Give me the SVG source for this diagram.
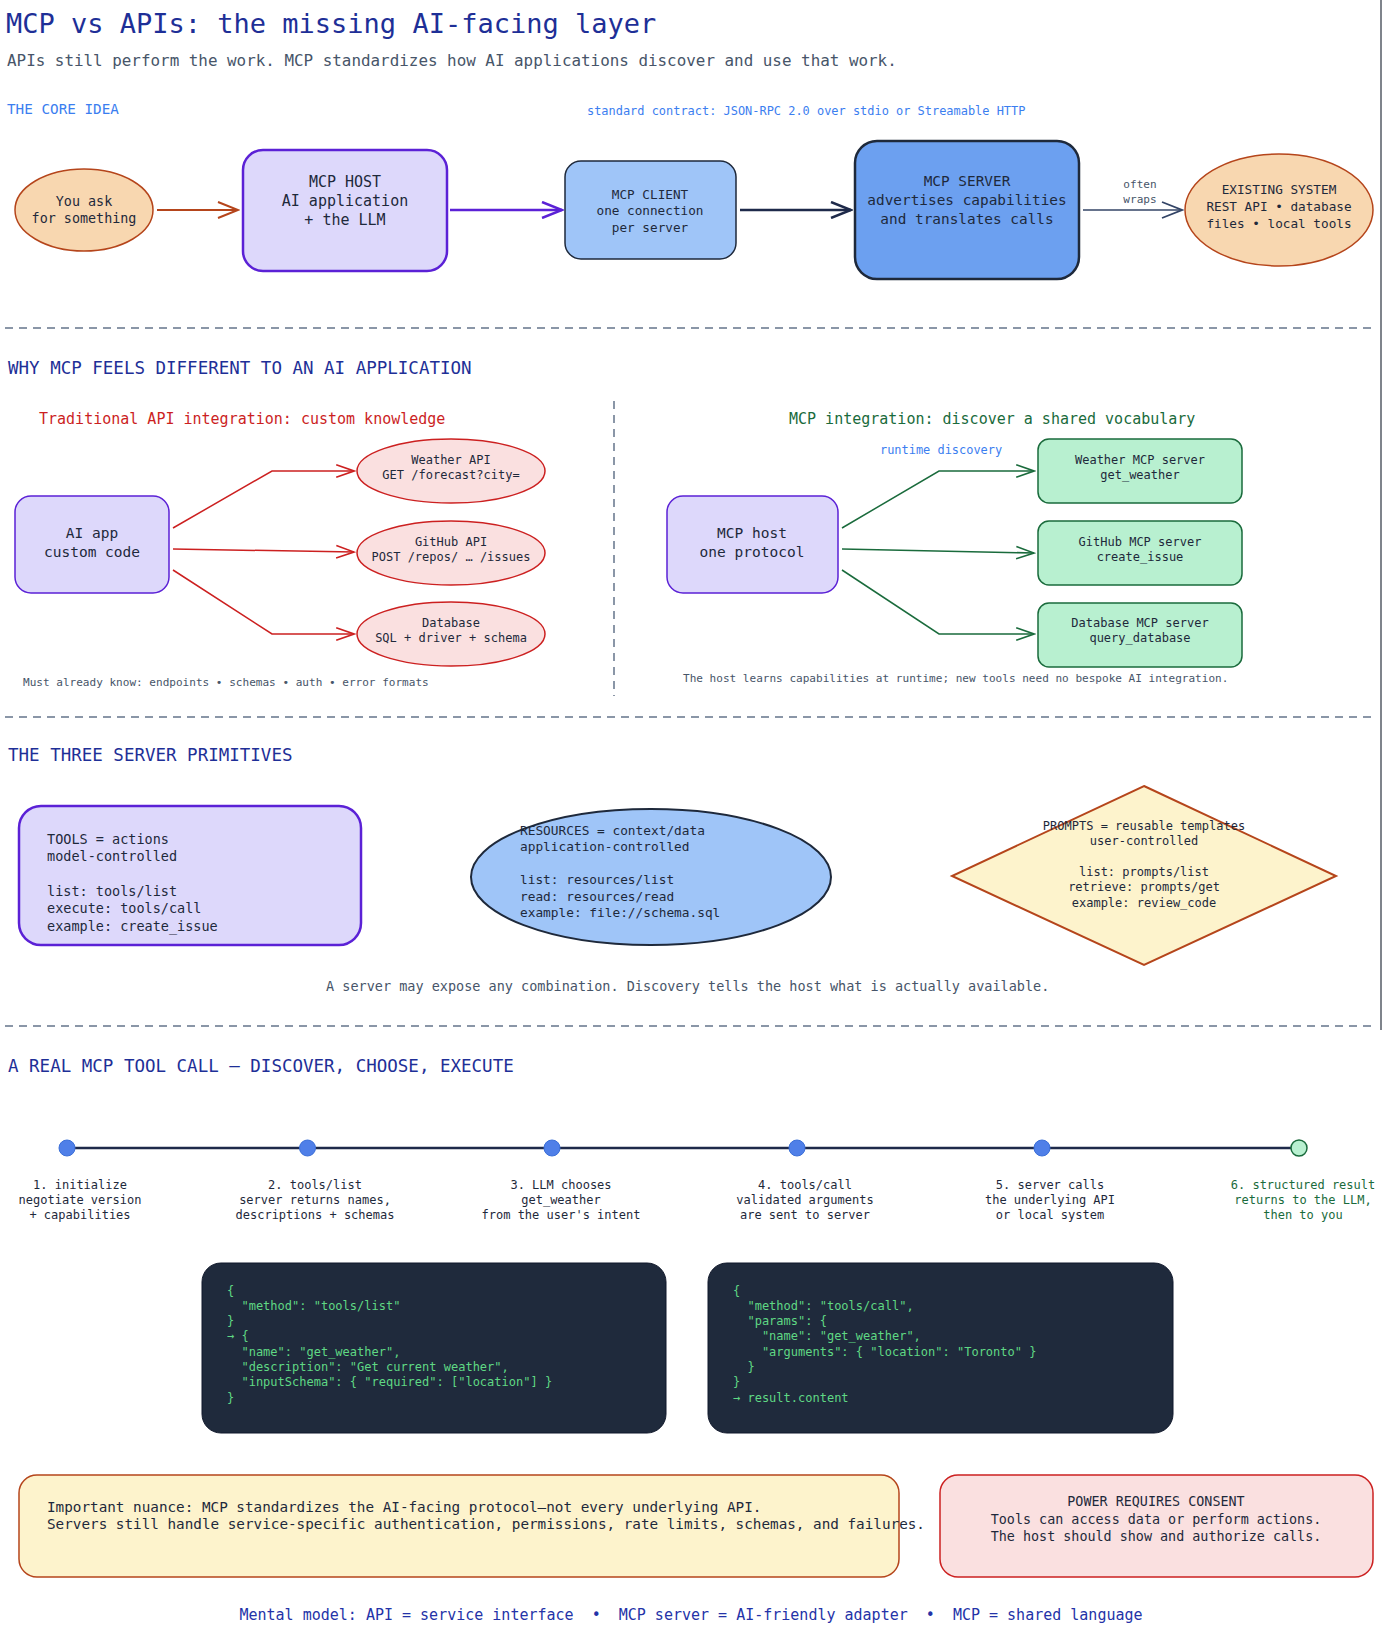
<svg xmlns="http://www.w3.org/2000/svg" width="1382" height="1640" viewBox="0 0 1382 1640">
  <style>
    text { font-family: "DejaVu Sans Mono", "Liberation Mono", monospace; dominant-baseline: central; }
    .h1 { font-size: 27px; fill: #1e2f97; }
    .sub { font-size: 15.9px; fill: #475569; }
    .sec { font-size: 17.5px; fill: #1e2f97; }
    .kick { font-size: 14.3px; fill: #3b7ef0; }
    .note { font-size: 11.95px; fill: #3b7ef0; }
    .cap { font-size: 11.05px; fill: #475569; }
    .nt { fill: #1e293b; text-anchor: middle; }
    .lt { fill: #1e293b; }
    .code { font-size: 12px; fill: #5fd884; }
    .sep { stroke: #64748b; stroke-width: 1.5; stroke-dasharray: 8 6; fill: none; }
    .peach { fill: #f8d7b0; stroke: #b5451b; stroke-width: 1.5; }
    .lav { fill: #ddd8fb; stroke: #5b21d6; }
    .pink { fill: #fae0e0; stroke: #cc2020; stroke-width: 1.5; }
    .mint { fill: #b8f0d0; stroke: #1a6b3c; stroke-width: 1.5; }
    .dot { fill: #4f7fe8; stroke: #3b6fd8; stroke-width: 1; }
  </style>
  <defs>
    <marker id="ah-rust" viewBox="0 0 24 18" refX="22" refY="9" markerWidth="24" markerHeight="18" markerUnits="userSpaceOnUse" orient="auto">
      <path d="M2,1 L22,9 L2,17" fill="none" stroke="#b5451b" stroke-width="2"/>
    </marker>
    <marker id="ah-purple" viewBox="0 0 24 18" refX="22" refY="9" markerWidth="24" markerHeight="18" markerUnits="userSpaceOnUse" orient="auto">
      <path d="M2,1 L22,9 L2,17" fill="none" stroke="#5b21d6" stroke-width="2.5"/>
    </marker>
    <marker id="ah-navy" viewBox="0 0 24 18" refX="22" refY="9" markerWidth="24" markerHeight="18" markerUnits="userSpaceOnUse" orient="auto">
      <path d="M2,1 L22,9 L2,17" fill="none" stroke="#1e2a4a" stroke-width="2.5"/>
    </marker>
    <marker id="ah-slate" viewBox="0 0 24 18" refX="22" refY="9" markerWidth="24" markerHeight="18" markerUnits="userSpaceOnUse" orient="auto">
      <path d="M2,1 L22,9 L2,17" fill="none" stroke="#334466" stroke-width="1.8"/>
    </marker>
    <marker id="ah-red" viewBox="0 0 24 18" refX="22" refY="9" markerWidth="22" markerHeight="16" markerUnits="userSpaceOnUse" orient="auto">
      <path d="M2,2 L22,9 L2,16" fill="none" stroke="#cc2020" stroke-width="1.8"/>
    </marker>
    <marker id="ah-green" viewBox="0 0 24 18" refX="22" refY="9" markerWidth="22" markerHeight="16" markerUnits="userSpaceOnUse" orient="auto">
      <path d="M2,2 L22,9 L2,16" fill="none" stroke="#1a6b3c" stroke-width="1.8"/>
    </marker>
  </defs>

  <rect width="1382" height="1640" fill="#ffffff"/>
  <line x1="1381" y1="0" x2="1381" y2="1030" stroke="#555b66" stroke-width="1.5"/>

  <!-- heading -->
  <text class="h1" x="6" y="23">MCP vs APIs: the missing AI-facing layer</text>
  <text class="sub" x="7" y="60">APIs still perform the work. MCP standardizes how AI applications discover and use that work.</text>

  <!-- section 1: the core idea -->
  <text class="kick" x="7" y="109">THE CORE IDEA</text>
  <text class="note" x="587" y="111">standard contract: JSON-RPC 2.0 over stdio or Streamable HTTP</text>

  <g id="connectors">
    <line x1="157" y1="210" x2="238" y2="210" stroke="#b5451b" stroke-width="1.8" marker-end="url(#ah-rust)"/>
    <line x1="450" y1="210" x2="562" y2="210" stroke="#5b21d6" stroke-width="2.5" marker-end="url(#ah-purple)"/>
    <line x1="740" y1="210" x2="851" y2="210" stroke="#1e2a4a" stroke-width="2.5" marker-end="url(#ah-navy)"/>
    <line x1="1083" y1="210" x2="1182" y2="210" stroke="#334466" stroke-width="1.6" marker-end="url(#ah-slate)"/>
    <text class="cap" x="1140" y="184" text-anchor="middle">often</text>
    <text class="cap" x="1140" y="199" text-anchor="middle">wraps</text>

    <!-- traditional fan-out -->
    <polyline points="173,528 272,471 354,471" fill="none" stroke="#cc2020" stroke-width="1.5" marker-end="url(#ah-red)"/>
    <polyline points="173,549 354,552" fill="none" stroke="#cc2020" stroke-width="1.5" marker-end="url(#ah-red)"/>
    <polyline points="173,570 272,634 354,634" fill="none" stroke="#cc2020" stroke-width="1.5" marker-end="url(#ah-red)"/>

    <!-- MCP fan-out -->
    <polyline points="842,528 939,471 1034,471" fill="none" stroke="#1a6b3c" stroke-width="1.5" marker-end="url(#ah-green)"/>
    <polyline points="842,549 1034,553" fill="none" stroke="#1a6b3c" stroke-width="1.5" marker-end="url(#ah-green)"/>
    <polyline points="842,570 939,634 1034,634" fill="none" stroke="#1a6b3c" stroke-width="1.5" marker-end="url(#ah-green)"/>

    <!-- tool call timeline -->
    <line x1="67" y1="1148" x2="1299" y2="1148" stroke="#1e2a4a" stroke-width="2.5"/>
  </g>

  <g id="you-ask">
    <ellipse class="peach" cx="84" cy="210" rx="69" ry="41"/>
    <text class="nt" x="84" y="201" font-size="13.4">You ask</text>
    <text class="nt" x="84" y="218" font-size="13.4">for something</text>
  </g>
  <g id="mcp-host">
    <rect class="lav" x="243" y="150" width="204" height="121" rx="20" stroke-width="2.5"/>
    <text class="nt" x="345" y="182" font-size="15">MCP HOST</text>
    <text class="nt" x="345" y="201" font-size="15">AI application</text>
    <text class="nt" x="345" y="220" font-size="15">+ the LLM</text>
  </g>
  <g id="mcp-client">
    <rect x="565" y="161" width="171" height="98" rx="16" fill="#9fc5f8" stroke="#1e293b" stroke-width="1.5"/>
    <text class="nt" x="650" y="194" font-size="12.7">MCP CLIENT</text>
    <text class="nt" x="650" y="210" font-size="12.7">one connection</text>
    <text class="nt" x="650" y="227" font-size="12.7">per server</text>
  </g>
  <g id="mcp-server">
    <rect x="855" y="141" width="224" height="138" rx="22" fill="#6ca0f0" stroke="#1e293b" stroke-width="2.5"/>
    <text class="nt" x="967" y="181" font-size="14.4">MCP SERVER</text>
    <text class="nt" x="967" y="200" font-size="14.4">advertises capabilities</text>
    <text class="nt" x="967" y="219" font-size="14.4">and translates calls</text>
  </g>
  <g id="existing-system">
    <ellipse class="peach" cx="1279" cy="210" rx="94" ry="56"/>
    <text class="nt" x="1279" y="189" font-size="12.7">EXISTING SYSTEM</text>
    <text class="nt" x="1279" y="206" font-size="12.7">REST API • database</text>
    <text class="nt" x="1279" y="223" font-size="12.7">files • local tools</text>
  </g>

  <line class="sep" x1="5" y1="328" x2="1374" y2="328"/>

  <!-- section 2: why MCP feels different -->
  <text class="sec" x="8" y="368">WHY MCP FEELS DIFFERENT TO AN AI APPLICATION</text>
  <line class="sep" x1="614" y1="401" x2="614" y2="696" stroke-dasharray="6 5" stroke="#94a3b8"/>

  <text x="39" y="419" font-size="15" fill="#cc1f1f">Traditional API integration: custom knowledge</text>
  <text x="789" y="419" font-size="15" fill="#1a6b3c">MCP integration: discover a shared vocabulary</text>

  <g id="ai-app">
    <rect class="lav" x="15" y="496" width="154" height="97" rx="16" stroke-width="1.5"/>
    <text class="nt" x="92" y="533" font-size="14.5">AI app</text>
    <text class="nt" x="92" y="552" font-size="14.5">custom code</text>
  </g>
  <g id="weather-api">
    <ellipse class="pink" cx="451" cy="471" rx="94" ry="32"/>
    <text class="nt" x="451" y="460" font-size="12">Weather API</text>
    <text class="nt" x="451" y="475" font-size="12">GET /forecast?city=</text>
  </g>
  <g id="github-api">
    <ellipse class="pink" cx="451" cy="553" rx="94" ry="32"/>
    <text class="nt" x="451" y="542" font-size="12">GitHub API</text>
    <text class="nt" x="451" y="557" font-size="12">POST /repos/ … /issues</text>
  </g>
  <g id="database-api">
    <ellipse class="pink" cx="451" cy="634" rx="94" ry="32"/>
    <text class="nt" x="451" y="623" font-size="12">Database</text>
    <text class="nt" x="451" y="638" font-size="12">SQL + driver + schema</text>
  </g>
  <text class="cap" x="23" y="682">Must already know: endpoints • schemas • auth • error formats</text>

  <text class="note" x="880" y="450">runtime discovery</text>
  <g id="mcp-host-2">
    <rect class="lav" x="667" y="496" width="171" height="97" rx="16" stroke-width="1.5"/>
    <text class="nt" x="752" y="533" font-size="14.5">MCP host</text>
    <text class="nt" x="752" y="552" font-size="14.5">one protocol</text>
  </g>
  <g id="weather-server">
    <rect class="mint" x="1038" y="439" width="204" height="64" rx="11"/>
    <text class="nt" x="1140" y="460" font-size="12">Weather MCP server</text>
    <text class="nt" x="1140" y="475" font-size="12">get_weather</text>
  </g>
  <g id="github-server">
    <rect class="mint" x="1038" y="521" width="204" height="64" rx="11"/>
    <text class="nt" x="1140" y="542" font-size="12">GitHub MCP server</text>
    <text class="nt" x="1140" y="557" font-size="12">create_issue</text>
  </g>
  <g id="database-server">
    <rect class="mint" x="1038" y="603" width="204" height="64" rx="11"/>
    <text class="nt" x="1140" y="623" font-size="12">Database MCP server</text>
    <text class="nt" x="1140" y="638" font-size="12">query_database</text>
  </g>
  <text class="cap" x="683" y="678">The host learns capabilities at runtime; new tools need no bespoke AI integration.</text>

  <line class="sep" x1="5" y1="717" x2="1374" y2="717"/>

  <!-- section 3: server primitives -->
  <text class="sec" x="8" y="755">THE THREE SERVER PRIMITIVES</text>

  <g id="tools">
    <rect class="lav" x="19" y="806" width="342" height="139" rx="22" stroke-width="2.5"/>
    <text class="lt" x="47" y="839" font-size="13.5">TOOLS = actions</text>
    <text class="lt" x="47" y="856" font-size="13.5">model-controlled</text>
    <text class="lt" x="47" y="891" font-size="13.5">list: tools/list</text>
    <text class="lt" x="47" y="908" font-size="13.5">execute: tools/call</text>
    <text class="lt" x="47" y="926" font-size="13.5">example: create_issue</text>
  </g>
  <g id="resources">
    <ellipse cx="651" cy="877" rx="180" ry="68" fill="#9fc5f8" stroke="#1e293b" stroke-width="2"/>
    <text class="lt" x="520" y="830" font-size="12.8">RESOURCES = context/data</text>
    <text class="lt" x="520" y="846" font-size="12.8">application-controlled</text>
    <text class="lt" x="520" y="879" font-size="12.8">list: resources/list</text>
    <text class="lt" x="520" y="896" font-size="12.8">read: resources/read</text>
    <text class="lt" x="520" y="912" font-size="12.8">example: file://schema.sql</text>
  </g>
  <g id="prompts">
    <polygon points="1144,786 1336,876 1144,965 952,876" fill="#fdf3cc" stroke="#b5451b" stroke-width="2"/>
    <text class="nt" x="1144" y="826" font-size="12">PROMPTS = reusable templates</text>
    <text class="nt" x="1144" y="841" font-size="12">user-controlled</text>
    <text class="nt" x="1144" y="872" font-size="12">list: prompts/list</text>
    <text class="nt" x="1144" y="887" font-size="12">retrieve: prompts/get</text>
    <text class="nt" x="1144" y="903" font-size="12">example: review_code</text>
  </g>
  <text x="326" y="986" font-size="13.5" fill="#475569">A server may expose any combination. Discovery tells the host what is actually available.</text>

  <line class="sep" x1="5" y1="1026" x2="1374" y2="1026"/>

  <!-- section 4: a real tool call -->
  <text class="sec" x="8" y="1066">A REAL MCP TOOL CALL — DISCOVER, CHOOSE, EXECUTE</text>

  <g id="step-1">
    <circle class="dot" cx="67" cy="1148" r="8"/>
    <text class="nt" x="80" y="1185" font-size="12">1. initialize</text>
    <text class="nt" x="80" y="1200" font-size="12">negotiate version</text>
    <text class="nt" x="80" y="1215" font-size="12">+ capabilities</text>
  </g>
  <g id="step-2">
    <circle class="dot" cx="307.5" cy="1148" r="8"/>
    <text class="nt" x="315" y="1185" font-size="12">2. tools/list</text>
    <text class="nt" x="315" y="1200" font-size="12">server returns names,</text>
    <text class="nt" x="315" y="1215" font-size="12">descriptions + schemas</text>
  </g>
  <g id="step-3">
    <circle class="dot" cx="552" cy="1148" r="8"/>
    <text class="nt" x="561" y="1185" font-size="12">3. LLM chooses</text>
    <text class="nt" x="561" y="1200" font-size="12">get_weather</text>
    <text class="nt" x="561" y="1215" font-size="12">from the user's intent</text>
  </g>
  <g id="step-4">
    <circle class="dot" cx="797" cy="1148" r="8"/>
    <text class="nt" x="805" y="1185" font-size="12">4. tools/call</text>
    <text class="nt" x="805" y="1200" font-size="12">validated arguments</text>
    <text class="nt" x="805" y="1215" font-size="12">are sent to server</text>
  </g>
  <g id="step-5">
    <circle class="dot" cx="1042" cy="1148" r="8"/>
    <text class="nt" x="1050" y="1185" font-size="12">5. server calls</text>
    <text class="nt" x="1050" y="1200" font-size="12">the underlying API</text>
    <text class="nt" x="1050" y="1215" font-size="12">or local system</text>
  </g>
  <g id="step-6">
    <circle cx="1299" cy="1148" r="8" fill="#b8f0d0" stroke="#1a6b3c" stroke-width="1.5"/>
    <text x="1303" y="1185" font-size="12" fill="#1a6b3c" text-anchor="middle">6. structured result</text>
    <text x="1303" y="1200" font-size="12" fill="#1a6b3c" text-anchor="middle">returns to the LLM,</text>
    <text x="1303" y="1215" font-size="12" fill="#1a6b3c" text-anchor="middle">then to you</text>
  </g>

  <g id="code-list">
    <rect x="202" y="1263" width="464" height="170" rx="19" fill="#1f2a3c" stroke="#0f172a" stroke-width="1"/>
    <text class="code" x="227" y="1291" xml:space="preserve">{</text>
    <text class="code" x="227" y="1306" xml:space="preserve">  "method": "tools/list"</text>
    <text class="code" x="227" y="1321" xml:space="preserve">}</text>
    <text class="code" x="227" y="1336" xml:space="preserve">→ {</text>
    <text class="code" x="227" y="1352" xml:space="preserve">  "name": "get_weather",</text>
    <text class="code" x="227" y="1367" xml:space="preserve">  "description": "Get current weather",</text>
    <text class="code" x="227" y="1382" xml:space="preserve">  "inputSchema": { "required": ["location"] }</text>
    <text class="code" x="227" y="1398" xml:space="preserve">}</text>
  </g>
  <g id="code-call">
    <rect x="708" y="1263" width="465" height="170" rx="19" fill="#1f2a3c" stroke="#0f172a" stroke-width="1"/>
    <text class="code" x="733" y="1291" xml:space="preserve">{</text>
    <text class="code" x="733" y="1306" xml:space="preserve">  "method": "tools/call",</text>
    <text class="code" x="733" y="1321" xml:space="preserve">  "params": {</text>
    <text class="code" x="733" y="1336" xml:space="preserve">    "name": "get_weather",</text>
    <text class="code" x="733" y="1352" xml:space="preserve">    "arguments": { "location": "Toronto" }</text>
    <text class="code" x="733" y="1367" xml:space="preserve">  }</text>
    <text class="code" x="733" y="1382" xml:space="preserve">}</text>
    <text class="code" x="733" y="1398" xml:space="preserve">→ result.content</text>
  </g>

  <g id="nuance">
    <rect x="19" y="1475" width="880" height="102" rx="18" fill="#fdf3cc" stroke="#b5451b" stroke-width="1.5"/>
    <text class="lt" x="47" y="1507" font-size="14.3">Important nuance: MCP standardizes the AI-facing protocol—not every underlying API.</text>
    <text class="lt" x="47" y="1524" font-size="14.3">Servers still handle service-specific authentication, permissions, rate limits, schemas, and failures.</text>
  </g>
  <g id="consent">
    <rect class="pink" x="940" y="1475" width="433" height="102" rx="18"/>
    <text class="nt" x="1156" y="1501" font-size="13.4">POWER REQUIRES CONSENT</text>
    <text class="nt" x="1156" y="1519" font-size="13.4">Tools can access data or perform actions.</text>
    <text class="nt" x="1156" y="1536" font-size="13.4">The host should show and authorize calls.</text>
  </g>

  <text x="691" y="1615" font-size="15" fill="#2433a8" text-anchor="middle" xml:space="preserve">Mental model: API = service interface  •  MCP server = AI-friendly adapter  •  MCP = shared language</text>
</svg>
